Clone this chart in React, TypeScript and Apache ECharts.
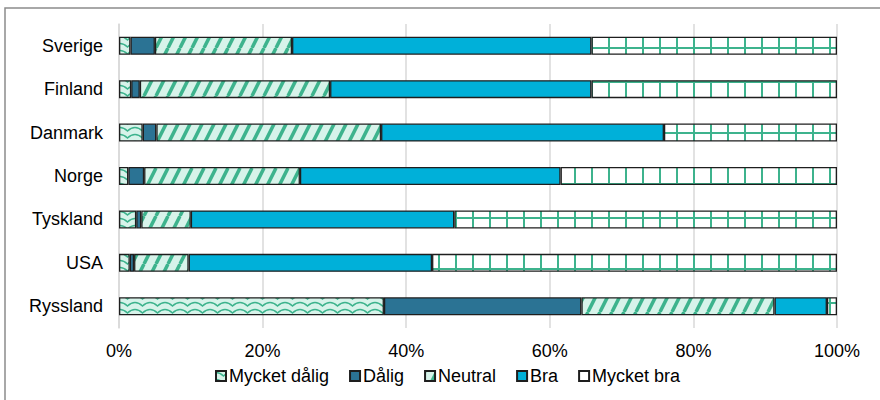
import React, { useEffect, useRef } from "react";
import * as echarts from "echarts";

const categories = ["Sverige", "Finland", "Danmark", "Norge", "Tyskland", "USA", "Ryssland"];
const seriesNames = ["Mycket dålig", "Dålig", "Neutral", "Bra", "Mycket bra"];
const mycketDalig = [1.6, 1.7, 3.3, 1.3, 2.4, 1.5, 36.9];
const dalig = [3.4, 1.2, 1.9, 2.2, 0.7, 0.6, 27.5];
const neutral = [19.1, 26.5, 31.3, 21.7, 6.9, 7.6, 26.9];
const bra = [41.7, 36.4, 39.4, 36.3, 36.7, 33.9, 7.3];
const mycketBra = [34.2, 34.2, 24.1, 38.5, 53.3, 56.4, 1.4];
const tickLabels = ["0%", "20%", "40%", "60%", "80%", "100%"];

const GREEN = "#3db38d";
const MINT = "#d7f3ea";

function makeCanvas(w: number, h: number, draw: (ctx: CanvasRenderingContext2D) => void) {
  const c = document.createElement("canvas");
  c.width = w;
  c.height = h;
  const ctx = c.getContext("2d")!;
  draw(ctx);
  return c;
}

function wave() {
  return makeCanvas(15, 7, (ctx) => {
    ctx.fillStyle = MINT;
    ctx.fillRect(0, 0, 15, 7);
    ctx.strokeStyle = GREEN;
    ctx.lineWidth = 1.6;
    ctx.beginPath();
    ctx.moveTo(0, 1.5);
    ctx.quadraticCurveTo(3.75, 1.5, 7.5, 5);
    ctx.quadraticCurveTo(11.25, 1.5, 15, 1.5);
    ctx.stroke();
  });
}

function stripes() {
  return makeCanvas(12, 24, (ctx) => {
    ctx.fillStyle = MINT;
    ctx.fillRect(0, 0, 12, 24);
    ctx.strokeStyle = GREEN;
    ctx.lineWidth = 3.5;
    ctx.beginPath();
    for (const dx of [-12, 0, 12]) {
      ctx.moveTo(dx, 24);
      ctx.lineTo(dx + 12, 0);
    }
    ctx.stroke();
  });
}

function grid() {
  return makeCanvas(17, 17, (ctx) => {
    ctx.fillStyle = "#ffffff";
    ctx.fillRect(0, 0, 17, 17);
    ctx.fillStyle = GREEN;
    ctx.fillRect(13, 0, 2, 17);
    ctx.fillRect(0, 13, 17, 2);
  });
}

export default function App() {
  const ref = useRef<HTMLDivElement>(null);
  useEffect(() => {
    document.body.style.margin = "0";
    const chart = echarts.init(ref.current!, null, { renderer: "svg" });
    const fills: any[] = [
      { image: wave(), repeat: "repeat" },
      "#2b7394",
      { image: stripes(), repeat: "repeat" },
      "#00b0d9",
      { image: grid(), repeat: "repeat" },
    ];
    const values = [mycketDalig, dalig, neutral, bra, mycketBra];
    const font = "'Liberation Sans', Arial, sans-serif";
    chart.setOption({
      animation: false,
      textStyle: { fontFamily: font },
      graphic: [
        {
          type: "rect",
          shape: { x: 5, y: 8, width: 895, height: 420 },
          style: { fill: "none", stroke: "#8c8c8c", lineWidth: 1.5 },
          silent: true,
        },
      ],
      grid: { left: 119, right: 43, top: 24, bottom: 72 },
      legend: {
        left: 210,
        top: 362,
        icon: "rect",
        itemWidth: 10,
        itemHeight: 10,
        itemGap: 20,
        textStyle: { fontSize: 18, color: "#000", fontFamily: font, padding: [0, 0, 0, -2] },
        data: seriesNames,
      },
      xAxis: {
        type: "value",
        min: 0,
        max: 100,
        interval: 20,
        axisLine: { show: false },
        axisTick: { show: false },
        axisLabel: {
          fontSize: 18,
          color: "#000",
          margin: 14,
          formatter: (v: number) => tickLabels[Math.round(v / 20)],
        },
        splitLine: { lineStyle: { color: "#d9d9d9", width: 1.5 } },
      },
      yAxis: {
        type: "category",
        inverse: true,
        data: categories,
        axisLine: { show: true, lineStyle: { color: "#d9d9d9", width: 1.5 } },
        axisTick: { show: false },
        axisLabel: { fontSize: 18, color: "#000", margin: 16 },
      },
      series: seriesNames.map((name, i) => ({
        name,
        type: "bar",
        stack: "total",
        barWidth: 18,
        data: values[i],
        itemStyle: { color: fills[i], borderColor: "#1e1e1e", borderWidth: 1.3 },
      })),
    });
    return () => chart.dispose();
  }, []);
  return <div ref={ref} style={{ width: 880, height: 400 }} />;
}
